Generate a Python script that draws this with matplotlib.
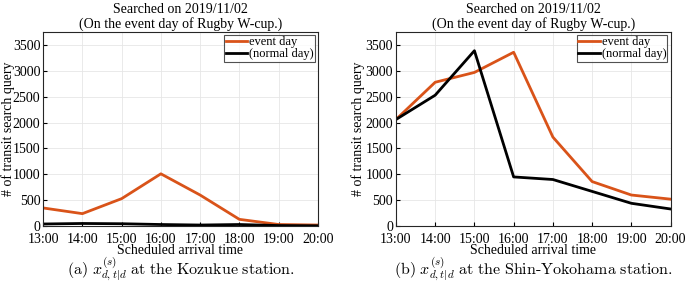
import matplotlib
matplotlib.use('Agg')
import matplotlib.pyplot as plt

plt.rcParams['font.family'] = ['Liberation Serif', 'DejaVu Serif']
plt.rcParams['mathtext.fontset'] = 'cm'

# data
times = ['13:00', '14:00', '15:00', '16:00', '17:00', '18:00', '19:00', '20:00']
kozukue_event = [350, 240, 530, 1010, 600, 130, 30, 20]
kozukue_normal = [40, 50, 45, 30, 20, 30, 10, 5]
shin_event = [2060, 2780, 2970, 3360, 1720, 860, 600, 520]
shin_normal = [2060, 2530, 3390, 950, 900, 670, 440, 330]
yticks = [0, 500, 1000, 1500, 2000, 2500, 3000, 3500]
title = 'Searched on 2019/11/02\n(On the event day of Rugby W-cup.)'
captions = [r'$\mathrm{(a)}\ x^{(s)}_{d,t|d}\ \mathrm{at\ the\ Kozukue\ station.}$',
            r'$\mathrm{(b)}\ x^{(s)}_{d,t|d}\ \mathrm{at\ the\ Shin}\text{-}\mathrm{Yokohama\ station.}$']

orange = '#D95319'

fig = plt.figure(figsize=(6.85, 2.84), dpi=100)
ax1 = fig.add_axes([0.063, 0.204, 0.401, 0.683])
ax2 = fig.add_axes([0.578, 0.204, 0.401, 0.683])

x = list(range(len(times)))
for ax, ev, nm, cap, ylx in [(ax1, kozukue_event, kozukue_normal, captions[0], -0.128),
                             (ax2, shin_event, shin_normal, captions[1], -0.138)]:
    ax.plot(x, ev, color=orange, lw=2, label='event day')
    ax.plot(x, nm, color='black', lw=2, label='(normal day)')
    ax.set_xlim(0, len(times) - 1)
    ax.set_ylim(0, 3750)
    ax.set_xticks(x)
    ax.set_xticklabels(times)
    ax.set_yticks(yticks)
    ax.tick_params(direction='in', labelsize=10, length=3, pad=2)
    ax.tick_params(axis='x', pad=5)
    ax.grid(color='#e6e6e6', lw=0.6)
    ax.set_axisbelow(True)
    for s in ax.spines.values():
        s.set_linewidth(0.8)
        s.set_color('#262626')
    ax.set_title(title, fontsize=10, pad=3, linespacing=1.15)
    ax.set_xlabel('Scheduled arrival time', fontsize=10, va='top')
    ax.xaxis.set_label_coords(0.5, -0.095)
    ax.set_ylabel('# of transit search query', fontsize=10, va='center')
    ax.yaxis.set_label_coords(ylx, 0.5)
    leg = ax.legend(loc='upper right', fontsize=9, frameon=True, fancybox=False,
                    handlelength=1.7, handletextpad=0.15, borderpad=0.1,
                    labelspacing=0.0, borderaxespad=0.25)
    leg.get_frame().set_edgecolor('#262626')
    leg.get_frame().set_linewidth(0.8)
    ax.text(0.5, -0.25, cap, transform=ax.transAxes, ha='center', va='baseline', fontsize=11.5)

fig.savefig('out.png', dpi=100)
